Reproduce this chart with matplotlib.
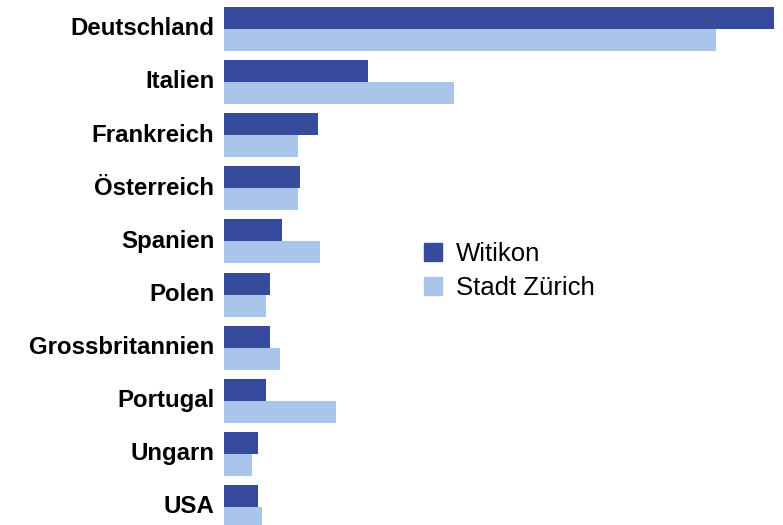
import matplotlib
matplotlib.use("Agg")
import matplotlib.pyplot as plt
from matplotlib.patches import Patch
import numpy as np

plt.rcParams['font.family'] = ['Liberation Sans', 'DejaVu Sans']

categories = ["Deutschland", "Italien", "Frankreich", "Österreich", "Spanien",
              "Polen", "Grossbritannien", "Portugal", "Ungarn", "USA"]
witikon = [27.5, 7.2, 4.7, 3.8, 2.9, 2.3, 2.3, 2.1, 1.7, 1.7]
stadt_zuerich = [24.6, 11.5, 3.7, 3.7, 4.8, 2.1, 2.8, 5.6, 1.4, 1.9]
series_names = ["Witikon", "Stadt Zürich"]

c_dark = "#374b9d"
c_light = "#a9c6ea"

fig = plt.figure(figsize=(7.83, 5.25), dpi=100)
ax = fig.add_axes([224/783, 0, 1 - 224/783, 1])

y = np.arange(len(categories))
h = 0.414
ax.barh(y - h/2, witikon, height=h, color=c_dark, label=series_names[0])
ax.barh(y + h/2, stadt_zuerich, height=h, color=c_light, label=series_names[1])

ax.set_ylim(9.34, -0.546)
ax.set_xlim(0, 27.95)
ax.set_yticks(y - 0.05)
ax.set_yticklabels(categories, fontsize=17.3, fontweight='bold')
ax.tick_params(axis='y', length=0, pad=7)
ax.set_xticks([])
for s in ax.spines.values():
    s.set_visible(False)

handles = [Patch(color=c_dark), Patch(color=c_light)]
fig.legend(handles, series_names, loc='upper left', bbox_to_anchor=(424/783, 1 - 242/525),
           frameon=False, fontsize=18.5, handlelength=0.7, handleheight=0.7,
           handletextpad=0.55, labelspacing=0.4, borderpad=0, borderaxespad=0)

fig.savefig("out.png", dpi=100)
